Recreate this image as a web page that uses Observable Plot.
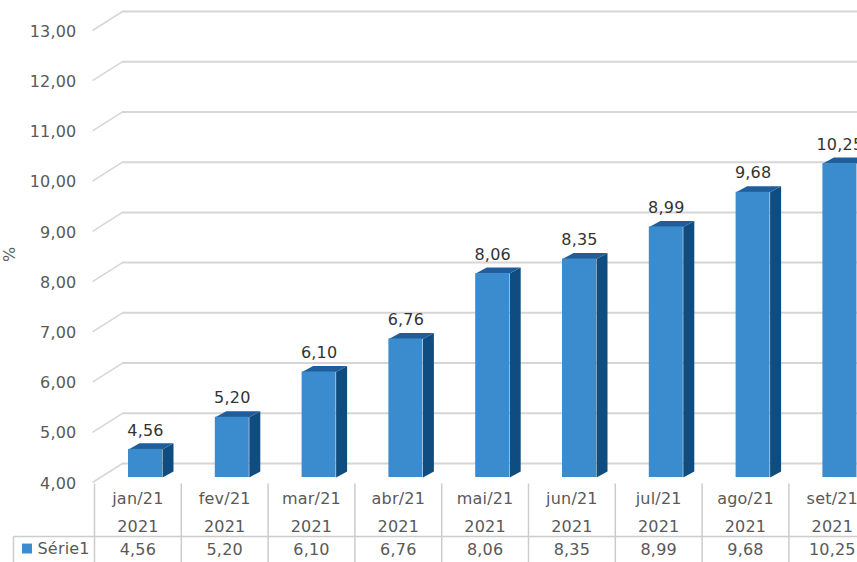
<!DOCTYPE html>
<html>
<head>
<meta charset="utf-8">
<script src="https://cdn.jsdelivr.net/npm/d3@7"></script>
<script src="https://cdn.jsdelivr.net/npm/@observablehq/plot@0.6"></script>
<style>
html,body{margin:0;padding:0;background:#fff;overflow:hidden}
svg{display:block}
</style>
</head>
<body>
<div id="chart"></div>
<script>
const months = ["jan/21","fev/21","mar/21","abr/21","mai/21","jun/21","jul/21","ago/21","set/21"];
const years = ["2021","2021","2021","2021","2021","2021","2021","2021","2021"];
const values = [4.56,5.20,6.10,6.76,8.06,8.35,8.99,9.68,10.25];
const yTicks = [4,5,6,7,8,9,10,11,12,13];
const seriesName = "Série1";

const fmt = v => v.toFixed(2).replace(".", ",");

// layout in scale units (1 x unit = one table column, 1 y unit = 1 percentage point)
const colPx = 86.8, rowPx = 50.2;
const xMax = (857 - 94) / colPx;
const bar0 = 34 / colPx, bar1 = 68 / colPx;
const depthX = 11 / colPx, depthY = 6 / rowPx;
const wallX = 28 / colPx, wallY = 19 / rowPx;
const tableBottom = 4 - 82 / rowPx, tableHead = 4 - 54 / rowPx;
const legendLeft = -81 / colPx;

const rows = values.map((v, i) => ({i, v, month: months[i], year: years[i]}));
const sideFace = rows.flatMap(d => [
  {id: d.i, x: d.i + bar1, y: 4},
  {id: d.i, x: d.i + bar1 + depthX, y: 4 + depthY},
  {id: d.i, x: d.i + bar1 + depthX, y: d.v + depthY},
  {id: d.i, x: d.i + bar1, y: d.v}
]);
const topFace = rows.flatMap(d => [
  {id: d.i, x: d.i + bar0, y: d.v},
  {id: d.i, x: d.i + bar1, y: d.v},
  {id: d.i, x: d.i + bar1 + depthX, y: d.v + depthY},
  {id: d.i, x: d.i + bar0 + depthX, y: d.v + depthY}
]);
const columnEdges = d3.range(0, 10);

const gridColor = "#d6d6d6", tableColor = "#cccccc", textColor = "#595959", labelColor = "#333333";
const barDy = -5;

const chart = Plot.plot({
  width: 857,
  height: 562,
  marginLeft: 94, marginRight: 0, marginTop: 30, marginBottom: 80,
  x: {domain: [0, xMax], range: [94, 857], axis: null},
  y: {domain: [4, 13], range: [482, 30], axis: null},
  style: {fontFamily: "'DejaVu Sans', sans-serif", fontSize: "16px", letterSpacing: "0.2px", background: "#fff", overflow: "hidden"},
  marks: [
    // back wall gridlines and floor diagonals
    Plot.ruleY(yTicks, {x1: wallX, x2: xMax, y: d => d + wallY, stroke: gridColor, strokeWidth: 2}),
    Plot.link(yTicks, {x1: 0, y1: d => d, x2: wallX + 2 / colPx, y2: d => d + wallY, stroke: gridColor, strokeWidth: 1.5, dx: -2}),
    // axis
    Plot.axisY(yTicks, {anchor: "left", tickSize: 0, tickPadding: 18, tickFormat: fmt, fill: textColor, label: null, dy: 1}),
    Plot.text(["%"], {frameAnchor: "left", x: legendLeft, y: 4 + 228 / rowPx, rotate: -90, dx: -4, fill: textColor, text: d => d, textAnchor: "middle"}),
    // bars
    Plot.line(sideFace, {x: "x", y: "y", z: "id", fill: "#0f4c7f", stroke: "none", dy: barDy}),
    Plot.line(topFace, {x: "x", y: "y", z: "id", fill: "#1f5e9b", stroke: "none", dy: barDy}),
    Plot.rect(rows, {x1: d => d.i + bar0, x2: d => d.i + bar1, y1: () => 4, y2: "v", fill: "#3b8bcf", dy: barDy}),
    Plot.text(rows, {x: d => d.i + (bar0 + bar1) / 2, y: "v", text: d => fmt(d.v), dy: barDy - 19, fill: labelColor}),
    // data table
    Plot.link(columnEdges, {x1: d => d, x2: d => d, y1: () => 4, y2: () => tableBottom, stroke: tableColor, strokeWidth: 1.5, dy: 1}),
    Plot.link([legendLeft], {x1: d => d, x2: d => d, y1: () => tableHead, y2: () => tableBottom, stroke: tableColor, strokeWidth: 1.5}),
    Plot.link([tableHead], {x1: () => legendLeft, x2: () => xMax, y1: d => d, y2: d => d, stroke: tableColor, strokeWidth: 1.5}),
    Plot.text(rows, {x: d => d.i + 0.5, y: () => 4, text: "month", dy: 16, fill: textColor}),
    Plot.text(rows, {x: d => d.i + 0.5, y: () => 4, text: "year", dy: 44, fill: textColor}),
    Plot.text(rows, {x: d => d.i + 0.5, y: () => 4, text: d => fmt(d.v), dy: 67, fill: textColor}),
    // legend key
    Plot.dot([seriesName], {x: () => legendLeft, y: () => tableHead, symbol: "square", r: 5.6, fill: "#3b8bcf", stroke: "none", dx: 13.5, dy: 12}),
    Plot.text([seriesName], {x: () => legendLeft, y: () => tableHead, text: d => d, textAnchor: "start", dx: 24, dy: 12, fill: textColor})
  ]
});
document.getElementById("chart").append(chart);
</script>
</body>
</html>
